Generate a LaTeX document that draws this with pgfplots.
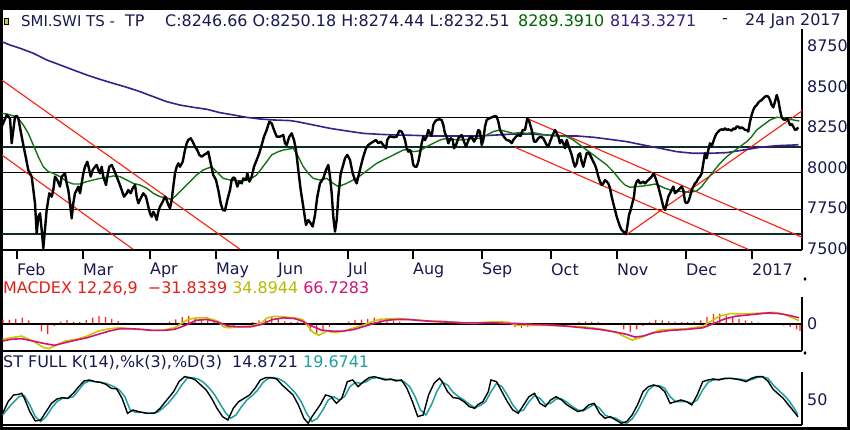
\documentclass[border=0pt]{standalone}
\usepackage{pgfplots}
\pgfplotsset{compat=1.18}
\usepackage{fontspec}
\setmainfont{DejaVu Sans}
\definecolor{navy}{RGB}{25,25,80}
\definecolor{tred}{RGB}{255,30,10}
\definecolor{magreen}{RGB}{20,115,20}
\definecolor{mapurple}{RGB}{60,30,140}
\definecolor{darkln}{RGB}{15,45,40}
\definecolor{myel}{RGB}{200,200,0}
\definecolor{mmag}{RGB}{210,20,120}
\definecolor{hred}{RGB}{255,40,20}
\definecolor{lred}{RGB}{230,30,20}
\definecolor{lyel}{RGB}{185,185,0}
\definecolor{tgreen}{RGB}{0,100,0}
\definecolor{tpurple}{RGB}{60,30,120}
\definecolor{steal}{RGB}{30,160,160}
\newcommand{\chartfont}{\fontsize{16}{19}\selectfont}
\pgfplotsset{
  panel/.style={scale only axis, xmin=2, xmax=802, clip=true,
    axis x line*=bottom, axis y line*=right,
    axis line style={line width=1.3bp, black, -},
    every tick label/.append style={font=\chartfont, text=navy},
    y tick style={draw=none},
    yticklabel style={anchor=west, inner sep=0pt, xshift=5bp}},
}
\begin{document}
\begin{tikzpicture}[font=\chartfont]
\fill[black] (0,0) rectangle (850bp,430bp);
\fill[white] (2.5bp,3bp) rectangle (847bp,420bp);
\filldraw[fill=yellow!80!black, draw=black, line width=0.5bp] (4bp,406bp) rectangle (8bp,412bp);
\node[anchor=west, inner sep=0, text=navy, font=\fontsize{15}{18}\selectfont] at (21bp,409bp) {SMI.SWI TS -};
\node[anchor=west, inner sep=0, text=navy] at (125bp,409bp) {TP};
\node[anchor=west, inner sep=0, text=navy] at (165bp,409bp) {C:8246.66 O:8250.18 H:8274.44 L:8232.51};
\node[anchor=west, inner sep=0, text=tgreen] at (518bp,409bp) {8289.3910};
\node[anchor=west, inner sep=0, text=tpurple] at (610bp,409bp) {8143.3271};
\node[anchor=west, inner sep=0, text=navy] at (722bp,409bp) {-};
\node[anchor=west, inner sep=0, text=navy] at (745bp,409bp) {24 Jan 2017};
\node[anchor=west, inner sep=0] at (3bp,141bp) {\color{lred}MACDEX 12,26,9\ \ −31.8339 \color{lyel}34.8944 \color{mmag}66.7283};
\node[anchor=west, inner sep=0, text=navy] at (3bp,68bp) {ST FULL K(14),\%k(3),\%D(3)\ \ 14.8721 \textcolor{steal}{19.6741}};
\fill[black] (805bp,149bp) -- (806.5bp,151bp) -- (805bp,153bp) -- (803.5bp,151bp) -- cycle;
\fill[black] (805bp,75bp) -- (806.5bp,77bp) -- (805bp,79bp) -- (803.5bp,77bp) -- cycle;

% ---------------- main price panel
\begin{axis}[panel, at={(2bp,180bp)}, anchor=south west, width=800bp, height=221bp,
  ymin=7489.4, ymax=8855,
  xtick={17,83,150,216,278,348,413,482,551,617,686,752},
  xticklabels={Feb,Mar,Apr,May,Jun,Jul,Aug,Sep,Oct,Nov,Dec,2017},
  x tick style={line width=1.3bp, black}, xtick align=outside, major tick length=9bp,
  xticklabel style={anchor=west, inner sep=0pt, yshift=-11bp},
  ytick={7500,7750,8000,8250,8500,8750},
  yticklabels={7500,7750,8000,8250,8500,8750}]
\addplot[black, line width=1.1bp] coordinates {(2,8310) (802,8310)};
\addplot[darkln, line width=1.8bp] coordinates {(2,8126) (802,8126)};
\addplot[black, line width=1.1bp] coordinates {(2,7971) (802,7971)};
\addplot[black, line width=1.1bp] coordinates {(2,7737) (802,7737)};
\addplot[darkln, line width=1.8bp] coordinates {(2,7588) (802,7588)};
\addplot[tred, line width=1.1bp] coordinates {(1.7,8540) (240,7494)};
\addplot[tred, line width=1.1bp] coordinates {(1.7,8077) (133.3,7493)};
\addplot[tred, line width=1.1bp] coordinates {(526.7,8303) (802,7568)};
\addplot[tred, line width=1.1bp] coordinates {(515,8124) (748.3,7493)};
\addplot[tred, line width=1.1bp] coordinates {(626,7582) (802.3,8350)};
% purple MA
\addplot[mapurple, line width=1.6bp] coordinates {
(1.7,8777) (10,8756) (20,8736) (33.3,8705) (46.7,8664) (60,8633) (73.3,8602) (86.7,8571)
(100,8544) (113.3,8519) (126.7,8495) (140,8468) (153.3,8437) (166.7,8406) (180,8385)
(193.3,8371) (206.7,8359) (220,8338) (233.3,8324) (246.7,8309) (260,8299) (273.3,8293)
(290,8289) (296.7,8283) (313.3,8262) (330,8241) (346.7,8225) (363.3,8210) (380,8204)
(396.7,8200) (413.3,8198) (430,8194) (446.7,8194) (463.3,8194) (480,8194) (496.7,8200)
(513.3,8206) (530,8206) (546.7,8200) (563.3,8194) (576.7,8194) (593.3,8186) (610,8173)
(626.7,8159) (643.3,8138) (660,8118) (676.7,8097) (693.3,8087) (710,8087) (726.7,8091)
(743.3,8107) (760,8124) (776.7,8134) (793.3,8138) (798.3,8140)};
% green MA
\addplot[magreen, line width=1.4bp] coordinates {
(0,8334) (6.7,8330) (13.3,8318) (18.3,8303) (23.3,8262) (28.3,8210) (33.3,8138) (38.3,8066)
(43.3,8004) (48.3,7974) (53.3,7963) (60,7943) (66.7,7912) (73.3,7897) (80,7897) (86.7,7912)
(93.3,7922) (100,7932) (106.7,7938) (113.3,7947) (120,7943) (126.7,7922) (133.3,7901)
(140,7891) (146.7,7871) (153.3,7840) (160,7819) (166.7,7809) (171.7,7803) (176.7,7829)
(183.3,7871) (190,7912) (196.7,7953) (203.3,7984) (210,8000) (213.3,7994) (218.3,7963)
(223.3,7932) (230,7922) (236.7,7918) (243.3,7918) (250,7926) (256.7,7953) (261.7,7994)
(266.7,8035) (271.7,8077) (278.3,8097) (283.3,8107) (293.3,8118) (298.3,8066) (303.3,8004)
(308.3,7963) (313.3,7932) (320,7922) (326.7,7932) (333.3,7901) (338.3,7881) (345,7897)
(350,7912) (356.7,7932) (363.3,7963) (370,7994) (376.7,8025) (383.3,8046) (390,8066)
(396.7,8087) (403.3,8107) (408.3,8111) (413.3,8097) (420,8103) (426.7,8128) (433.3,8149)
(440,8169) (446.7,8180) (453.3,8173) (460,8169) (466.7,8173) (473.3,8177) (480,8180)
(486.7,8200) (493.3,8221) (500,8231) (506.7,8221) (513.3,8210) (520,8215) (526.7,8210)
(533.3,8215) (540,8206) (546.7,8200) (553.3,8194) (560,8195) (566.7,8190) (573.3,8169)
(580,8138) (586.7,8107) (593.3,8077) (600,8046) (606.7,8015) (613.3,7974) (620,7922)
(625,7891) (630,7877) (636.7,7881) (643.3,7885) (650,7891) (655,7897) (660,7885) (665,7871)
(670,7860) (676.7,7854) (683.3,7850) (690,7846) (696.7,7854) (701.7,7881) (706.7,7922)
(713.3,7974) (720,8025) (726.7,8066) (733.3,8097) (740,8128) (746.7,8159) (751.7,8190)
(756.7,8231) (763.3,8262) (770,8293) (776.7,8309) (783.3,8307) (790,8297) (796.7,8289)
(799.3,8287)};
% price
\addplot[black, line width=2.4bp, line join=round] coordinates {
(1.7,8252) (6.7,8324) (10,8303) (11.7,8149) (15,8313) (16.7,8318) (18.3,8303) (21.7,8190)
(25,8087) (28.3,7984) (31.7,7943) (35,7778) (36.7,7592) (38.3,7695) (40,7716) (41.7,7613)
(43.3,7500) (46.7,7737) (49.3,7840) (51.7,7819) (53.3,7860) (55,7943) (57.3,7922) (60,7881)
(61.7,7943) (65,7963) (66.7,7901) (68.3,7860) (70,7778) (71.7,7685) (73.3,7778) (75,7840)
(76.7,7860) (78.3,7881) (80,7840) (81.7,7901) (83.3,7963) (85,8004) (87.3,8035) (89.3,7984)
(90.7,7943) (92.7,7984) (95,8004) (96.7,8015) (98.3,7984) (100,7963) (101.7,8004)
(103.3,7943) (106,7891) (107.3,7943) (109.3,8004) (111.7,8015) (114,7984) (116.7,7943)
(119.3,7901) (121.7,7860) (124,7819) (126.7,7840) (128.3,7860) (130.7,7840) (132.7,7871)
(135,7891) (136.7,7819) (138.3,7778) (140.7,7809) (143.3,7840) (146,7819) (148.3,7757)
(150,7716) (151.7,7695) (153.3,7726) (155,7706) (156.7,7675) (158.3,7726) (160,7757)
(162.7,7788) (165,7819) (166.7,7798) (168.3,7768) (170,7747) (171.7,7798) (173.3,7881)
(175,7963) (176.7,8004) (178.3,8025) (180,8004) (182.7,8035) (185,8107) (186.7,8149)
(188.3,8169) (190.7,8180) (192.7,8159) (195,8128) (197.3,8107) (199.3,8077) (201.7,8066)
(204,8077) (206.7,8087) (208.3,8097) (210.7,8025) (213.3,7953) (216,7922) (218.3,7860)
(220.7,7778) (222.7,7737) (225,7733) (227.3,7798) (230,7860) (231.7,7922) (233.3,7938)
(235,7932) (237.3,7881) (239.3,7912) (241.7,7901) (243.3,7932) (246,7922) (247.3,7963)
(249.3,7912) (251.7,7943) (254,8004) (256.7,8046) (259.3,8087) (261.7,8138) (264,8190)
(266.7,8231) (269.3,8283) (271.7,8272) (274,8231) (276.7,8190) (280,8190) (283.3,8200)
(285,8149) (286.7,8138) (289.3,8190) (291.7,8210) (294,8169) (296,8107) (298.3,7984)
(300.7,7860) (303.3,7757) (306,7644) (308.3,7675) (310.7,7654) (312.7,7634) (315,7706)
(317.3,7819) (320,7901) (323.3,7932) (326,7984) (328.3,8015) (330,7943) (331.7,7840)
(333.3,7695) (335,7603) (336.7,7675) (338.3,7819) (340.7,7963) (342.7,8004) (345,8056)
(347.3,8077) (350,8046) (352.7,7963) (355,7922) (356.7,7901) (358.3,7943) (360.7,8004)
(363.3,8066) (366,8118) (368.3,8138) (370.7,8149) (373.3,8159) (376,8169) (378.3,8149)
(380.7,8159) (383.3,8138) (386,8118) (387.3,8169) (389.3,8190) (391.7,8190) (394,8186)
(396.7,8190) (399.3,8227) (401.7,8221) (403.3,8200) (405,8169) (406.7,8118) (408.3,8097)
(410,8107) (411.7,8077) (413.3,8015) (415,8004) (416.7,8004) (418.3,8035) (420,8087)
(421.7,8149) (423.3,8190) (425,8169) (426.7,8190) (428.3,8231) (430,8210) (431.7,8194)
(433.3,8262) (435,8283) (436.7,8293) (439.3,8297) (441.7,8293) (443.3,8262) (445,8210)
(446.7,8190) (448.3,8149) (450.7,8180) (452.7,8169) (454,8118) (456,8138) (458.3,8180)
(460,8190) (461.7,8200) (464,8159) (466,8128) (467.3,8149) (469.3,8180) (471.7,8190)
(474,8159) (476,8180) (478.3,8231) (480,8221) (481.7,8138) (483.3,8169) (485,8252)
(486.7,8293) (489.3,8303) (491.7,8309) (495,8318) (496.7,8313) (498.3,8283) (500,8231)
(502.7,8200) (505,8180) (506.7,8169) (509.3,8165) (511.7,8149) (513.3,8169) (516,8190)
(518.3,8200) (520.7,8194) (522.7,8231) (525,8231) (527.3,8303) (529.3,8283) (531.7,8231)
(534,8159) (536,8159) (538.3,8180) (540.7,8190) (543.3,8180) (545,8159) (546.7,8138)
(548.3,8128) (550.7,8169) (552.7,8200) (555,8231) (556.7,8210) (558.3,8190)
(560,8149) (561.7,8169) (563.3,8149) (565,8118) (566.7,8169) (568.3,8138) (570,8107)
(571.7,8077) (573.3,8035) (575,8004) (576.7,8025) (578.3,8077) (580,8087) (581.7,8035)
(583.3,8004) (585,8046) (586.7,8087) (588.3,8091) (590,8077) (591.7,8056) (593.3,8035)
(595,8015) (596.7,7984) (598.3,7943) (600,7912) (601.7,7891) (603.3,7901) (605,7922)
(606.7,7912) (608.3,7901) (610,7871) (611.7,7819) (613.3,7778) (615,7737) (616.7,7695)
(618.3,7665) (620,7634) (621.7,7613) (626,7588) (627.3,7634) (629,7706) (630.7,7737)
(632.3,7778) (634,7819) (635,7881) (636.7,7912) (638.3,7922) (640,7901) (641.7,7906)
(643.3,7912) (645,7901) (646.7,7912) (648.3,7922) (650,7932) (651.7,7943) (653.3,7963)
(655,7943) (656.7,7912) (658.3,7881) (660,7840) (661.7,7798) (663.3,7757) (665,7737)
(666.7,7778) (668.3,7819) (670,7840) (671.7,7860) (673.3,7881) (675,7840) (676.7,7850)
(678.3,7860) (680,7871) (681.7,7881) (683.3,7860) (685,7788) (686.7,7778) (688.3,7788)
(690,7819) (691.7,7860) (693.3,7881) (695,7901) (696.7,7912) (698.3,7932) (700,7943)
(701.7,7963) (703.3,8025) (705,8087) (706.7,8056) (708.3,8107) (710,8149) (711.7,8128)
(713.3,8159) (715,8190) (716.7,8210) (718.3,8221) (720,8231) (721.7,8235) (723.3,8231)
(725,8241) (726.7,8231) (728.3,8235) (730,8231) (731.7,8227) (733.3,8241) (735,8235)
(736.7,8252) (738.3,8252) (740,8241) (741.7,8247) (743.3,8241) (745,8231) (746.7,8231)
(748.3,8221) (750,8283) (751.7,8324) (753.3,8355) (755,8375) (756.7,8385) (758.3,8400)
(760,8410) (761.7,8416) (763.3,8427) (765,8437) (766.7,8441) (768.3,8437) (770,8416)
(771.7,8385) (773.3,8371) (775,8406) (776.7,8447) (778.3,8416) (780,8355) (781.7,8309)
(783.3,8297) (785,8293) (786.7,8303) (788.3,8289) (790,8262) (791.7,8268) (793.3,8252)
(795,8231) (796.7,8235) (798.3,8247)};
\end{axis}

% ---------------- MACD histogram (own scale)
\begin{axis}[scale only axis, at={(2bp,79bp)}, anchor=south west, width=800bp, height=54bp,
  xmin=2, xmax=802, ymin=-124, ymax=122, hide axis]
\addplot[ybar, bar width=1.3bp, bar shift=0pt, fill=hred, draw=none] coordinates {
(3,19) (9.4,18) (15.8,22) (22.2,28) (28.6,15) (35,-5) (41.4,-35) (47.8,-47) (54.2,-10)
(60.6,10) (67,17) (73.4,10) (79.8,8) (86.2,17) (92.6,28) (99,35) (105.4,30) (111.8,22)
(118.2,12) (124.6,5) (131,0) (137.4,0) (143.8,-2) (150.2,-2) (156.6,0) (163,3) (169.4,10)
(175.8,20) (182.2,30) (188.6,35) (195,28) (201.4,22) (207.8,18) (214.2,12) (220.6,-5)
(227,-18) (233.4,-10) (239.8,0) (246.2,4) (252.6,8) (259,15) (265.4,25) (271.8,32)
(278.2,22) (284.6,11) (291,7) (297.4,10) (303.8,15) (310.2,-35) (316.6,-45) (323,-35)
(329.4,-15) (335.8,-5) (342.2,0) (348.6,10) (355,18) (361.4,19) (367.8,22) (374.2,28)
(380.6,25) (387,15) (393.4,12) (399.8,10) (406.2,3) (412.6,0) (419,3) (425.4,2) (431.8,0)
(438.2,5) (444.6,6) (451,2) (457.4,0) (463.8,0) (470.2,-4) (476.6,-5) (483,5) (489.4,8)
(495.8,11) (502.2,13) (508.6,10) (515,-15) (521.4,-20) (527.8,-14) (534.2,-8) (540.6,-5)
(547,-4) (553.4,-2) (559.8,0) (566.2,0) (572.6,4) (579,9) (585.4,11) (591.8,9) (598.2,7)
(604.6,4) (611,2) (617.4,-5) (623.8,-25) (630.2,-37) (636.6,-25) (643,-9) (649.4,8)
(655.8,18) (662.2,16) (668.6,11) (675,9) (681.4,8) (687.8,7) (694.2,10) (700.6,16) (707,30)
(713.4,45) (719.8,46) (726.2,38) (732.6,30) (739,22) (745.4,15) (751.8,11) (758.2,6)
(764.6,3) (771,0) (777.4,-3) (783.8,-8) (790.2,-14) (796.6,-25) (800,-32)};
\end{axis}

% ---------------- MACD lines
\begin{axis}[panel, at={(2bp,79bp)}, anchor=south west, width=800bp, height=54bp,
  ymin=-302, ymax=298, xtick=\empty, ytick={0}, yticklabels={0}]
\addplot[black, line width=2.2bp] coordinates {(2,0) (802,0)};
\addplot[myel, line width=1.6bp] coordinates {
(2.7,-172) (10.9,-154) (21.8,-136) (32.7,-191) (43.6,-264) (49,-275) (54.5,-246) (65.4,-191)
(76.3,-172) (87.2,-136) (98.1,-81) (109,-55) (119.9,-44) (130.8,-55) (141.7,-62) (152.6,-73)
(163.5,-70) (174.4,-44) (182.6,11) (188,48) (196.2,66) (207.1,66) (218,29) (223.4,-33)
(228.9,-44) (239.8,-33) (250.7,-26) (261.6,11) (267,66) (275.2,84) (283.4,77) (294.3,66)
(302.5,48) (307.9,-26) (313.4,-99) (318.8,-128) (327,-81) (335.1,-99) (343.3,-81) (354.2,-44)
(365.1,-7) (376,40) (386.9,55) (397.8,59) (408.7,48) (419.6,40) (430.5,29) (441.4,29)
(452.3,18) (463.2,11) (474.1,4) (485,18) (495.9,22) (506.8,18) (517.7,-18) (528.6,-18)
(545,-15) (566.8,-26) (583.1,-33) (599.5,-55) (615.8,-92) (626.7,-154) (632.2,-180)
(640.3,-154) (648.5,-117) (659.4,-70) (670.3,-62) (686.6,-55) (703,-26) (708.4,11)
(719.3,84) (730.2,114) (741.1,110) (752,114) (762.9,121) (773.8,128) (784.7,103) (792,70)
(799,35)};
\addplot[mmag, line width=1.6bp] coordinates {
(2.7,-191) (10.9,-172) (21.8,-165) (32.7,-191) (43.6,-217) (54.5,-239) (65.4,-209) (76.3,-180)
(87.2,-154) (98.1,-117) (109,-81) (119.9,-55) (130.8,-55) (141.7,-62) (152.6,-73) (163.5,-73)
(174.4,-62) (185.3,-18) (196.2,40) (207.1,48) (218,18) (228.9,-26) (239.8,-33) (250.7,-33)
(261.6,-7) (272.5,48) (283.4,66) (294.3,59) (302.5,29) (310.6,-18) (321.5,-70) (332.4,-81)
(343.3,-81) (354.2,-62) (365.1,-26) (376,11) (386.9,40) (397.8,48) (408.7,48) (419.6,37)
(430.5,29) (441.4,22) (452.3,18) (463.2,11) (474.1,11) (485,11) (495.9,11) (506.8,4)
(517.7,4) (534,-7) (545,-11) (566.8,-26) (583.1,-44) (599.5,-62) (615.8,-92) (626.7,-117)
(634.9,-147) (643,-136) (653.9,-99) (670.3,-73) (686.6,-62) (703,-44) (713.9,4) (724.8,55)
(735.7,84) (752,103) (768.3,121) (779.2,114) (790.1,92) (799,67)};
\end{axis}

% ---------------- Stochastics
\begin{axis}[panel, at={(2bp,5bp)}, anchor=south west, width=800bp, height=53bp,
  ymin=-2.08, ymax=108.3, xtick=\empty, ytick={50}, yticklabels={50}]
\addplot[steal, line width=1.5bp] coordinates {
(2.7,18.8) (10.9,39.7) (19,57) (24.4,59.1) (29.8,39.7) (35.3,15.4) (40.7,5) (46.1,15.4)
(51.5,32.7) (57,46.6) (62.4,53.5) (67.8,53.5) (73.3,57) (78.7,70.9) (84.1,84.8) (89.5,89.6)
(95,88.2) (100.4,86.8) (105.8,84.8) (113.9,77.8) (119.4,70.9) (124.8,57) (130.2,29.2)
(135.6,24.4) (141.1,24.4) (149.2,22.3) (157.4,24.4) (162.8,32.7) (168.2,43.1) (176.3,63.9)
(181.8,81.3) (187.2,95.2) (192.6,96.6) (198,93.8) (203.5,86.8) (208.9,75.7) (214.3,61.9)
(219.8,43.1) (225.2,24.4) (230.6,11.9) (236,18.8) (241.5,36.2) (246.9,50.1) (252.3,59.1)
(257.7,70.9) (263.2,86.8) (268.6,95.2) (274,96.6) (279.4,93.8) (284.9,86.8) (290.3,75.7)
(295.7,63.9) (301.1,46.6) (306.6,22.3) (312,5) (317.4,11.9) (322.8,29.2) (328.3,50.1)
(333.7,57) (339.1,50.1) (344.5,57) (350,77.8) (355.4,86.8) (360.8,84.8) (366.3,88.2)
(371.7,95.2) (377.1,96.6) (382.5,95.2) (388,92.4) (393.4,92.4) (398.8,91) (404.2,88.2)
(409.7,77.8) (415.1,57) (420.5,29.2) (425.9,18.8) (431.4,39.7) (436.8,67.4) (442.2,86.8)
(447.6,81.3) (453.1,66) (458.5,57) (463.9,50.1) (469.3,41) (474.8,34.1) (480.2,38.3)
(485.6,46.6) (491,67.4) (496.5,84.8) (501.9,77.8) (507.3,60.5) (512.8,39.7) (518.2,25.8)
(523.6,29.2) (529,46.6) (534.5,59.1) (539.9,53.5) (545.3,41) (550.7,43.1) (556.2,52.1)
(561.6,52.1) (567,45.2) (572.4,36.2) (577.9,29.2) (583.3,27.2) (588.7,34.1) (594.1,41)
(599.6,32.7) (605,18.8) (610.4,13.3) (615.8,11.9) (621.3,5) (626.7,1.5) (632.1,10.5)
(637.5,27.2) (643,50.1) (648.4,70.9) (653.8,79.9) (659.3,79.9) (664.7,74.4) (670.1,57)
(675.5,46.6) (681,46.6) (686.4,46.6) (691.8,43.1) (697.2,50.1) (702.7,70.9) (708.1,86.8)
(713.5,91.7) (718.9,93.1) (724.4,93.8) (729.8,95.2) (735.2,94.5) (740.7,93.1) (746.1,91)
(751.5,92.4) (756.9,96.6) (762.4,98.6) (767.8,95.2) (773.2,81.3) (778.6,70) (784,60)
(789.5,47) (794,33) (798,19.7)};
\addplot[black, line width=1.4bp] coordinates {
(2.7,22.3) (8.1,46.6) (13.6,60.5) (19,61.9) (21.7,64) (24.4,53.5) (29.8,25.8) (35.3,6.3)
(40.7,8.4) (46.1,25.8) (51.5,43.1) (57,52.1) (62.4,54.9) (67.8,53.5) (73.3,64) (78.7,77.8)
(84.1,89.6) (89.5,91.7) (95,88.2) (100.4,86.8) (105.8,82.7) (111.2,74.4) (116.7,73)
(122.1,53.5) (127.5,22.3) (132.9,29.2) (138.4,25.8) (146.5,22.3) (154.6,22.3) (160.1,32.7)
(165.5,46.6) (173.6,67.4) (179,88.2) (184.5,98.6) (189.9,96.6) (195.3,91.7) (200.8,81.3)
(206.2,70.9) (211.6,53.5) (217,32.7) (222.5,15.4) (227.9,8.4) (233.3,32.7) (238.7,46.6)
(244.2,53.5) (249.6,60.5) (255,74.4) (260.4,91.7) (265.9,96.6) (271.3,96.6) (276.7,93.8)
(282.1,81.3) (287.6,70.9) (293,60.5) (298.4,39.7) (303.9,11.9) (308.2,1.5) (312,15.4)
(320.1,39.7) (325.6,60.5) (331,57) (336.4,43.1) (341.8,53.5) (347.3,88.2) (352.7,91.7)
(358.1,77.8) (363.5,88.2) (369,96.6) (374.4,98.6) (379.8,95.2) (385.2,91.7) (390.7,93.8)
(396.1,89.6) (401.5,91.7) (406.9,74.4) (412.4,46.6) (417.8,15.4) (423.2,18.8) (428.6,60.5)
(434.1,84.8) (439.5,95.2) (442.2,88.2) (447.6,67.4) (453.1,54.9) (458.5,53.5) (463.9,46.6)
(469.3,36.2) (474.8,32.7) (477.5,39.7) (482.9,46.6) (488.3,67.4) (491,91.7) (496.5,88.2)
(501.9,67.4) (507.3,46.6) (512.8,29.2) (518.2,22.3) (523.6,39.7) (529,57) (534.5,63.9)
(539.9,43.1) (545.3,36.2) (550.7,50.1) (556.2,57) (561.6,50.1) (567,39.7) (572.4,32.7)
(577.9,25.8) (583.3,29.2) (588.7,39.7) (594.1,43.1) (599.6,22.3) (605,11.9) (610.4,15.4)
(615.8,8.4) (621.3,1.5) (626.7,5) (632.1,18.8) (637.5,39.7) (643,67.4) (648.4,77.8)
(653.8,81.3) (659.3,77.8) (664.7,67.4) (670.1,43.1) (675.5,46.6) (681,50.1) (686.4,46.6)
(691.8,39.7) (697.2,60.5) (702.7,88.2) (708.1,91.7) (713.5,93.8) (718.9,91.7) (724.4,95.2)
(729.8,95.2) (735.2,93.8) (740.7,91.7) (746.1,88.2) (751.5,95.2) (756.9,98.6) (762.4,98.6)
(767.8,89.6) (773.2,72) (778.6,62) (783,54) (790,36) (795,23) (798,14.9)};
\end{axis}
\end{tikzpicture}
\end{document}
